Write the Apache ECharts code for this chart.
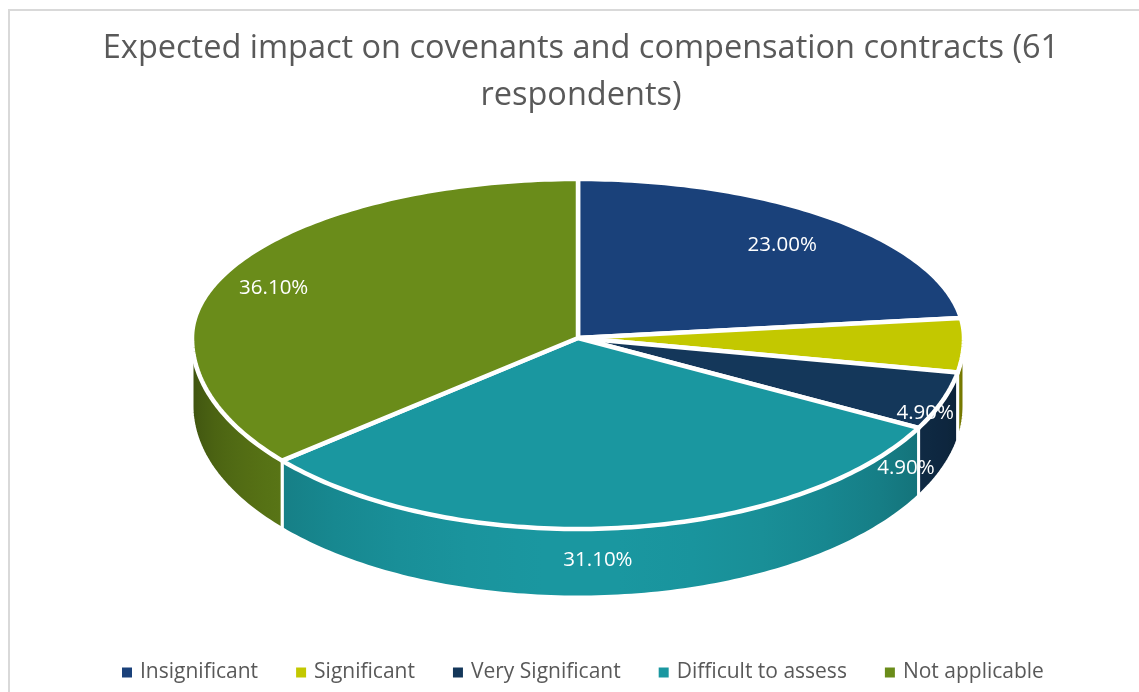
<!DOCTYPE html>
<html>
<head>
<meta charset="utf-8">
<script src="https://cdn.jsdelivr.net/npm/echarts@6/dist/echarts.min.js"></script>
<style>
html,body{margin:0;padding:0;background:#fff;}
#chart{width:1139px;height:692px;}
</style>
</head>
<body>
<div id="chart"></div>
<script>
// ---- data ----
const categories = ['Insignificant', 'Significant', 'Very Significant', 'Difficult to assess', 'Not applicable'];
const shares = [23.0, 4.9, 4.9, 31.1, 36.1];
const colors = ['#1a417a', '#c3c800', '#14375a', '#1a97a0', '#6a8c1a'];
const titleText = 'Expected impact on covenants and compensation contracts (61\nrespondents)';

// ---- label placement style: [radial factor, dx, dy] ----
const labelPlace = [[0.8, 0, 3], [0.9, 0, 70], [0.9, 0, 73], [1.0, -20, 32], [0.87, 0, 9]];

// ---- geometry style ----
const G = { cx: 578, cy: 338, rx: 386, ryBack: 159, ryFront: 191, depth: 68 };
const FONT = '"Open Sans", Lato, sans-serif';

const total = shares.reduce((a, b) => a + b, 0);
const startDeg = [], endDeg = [];
let acc = 0;
shares.forEach(v => { startDeg.push(acc / total * 360); acc += v; endDeg.push(acc / total * 360); });

function pt(deg, dy) {
  const t = deg * Math.PI / 180;
  const c = Math.cos(t);
  return [G.cx + G.rx * Math.sin(t), G.cy - (c > 0 ? G.ryBack : G.ryFront) * c + (dy || 0)];
}
function shade(hex, f) {
  const n = parseInt(hex.slice(1), 16);
  const r = Math.round(((n >> 16) & 255) * f), g = Math.round(((n >> 8) & 255) * f), b = Math.round((n & 255) * f);
  return 'rgb(' + r + ',' + g + ',' + b + ')';
}

function renderWall(params, api) {
  const i = params.dataIndex;
  const a1 = Math.max(startDeg[i], 90), a2 = Math.min(endDeg[i], 270);
  if (a2 <= a1) return { type: 'group', children: [] };
  const pts = [];
  const steps = Math.max(2, Math.ceil(a2 - a1));
  for (let k = 0; k <= steps; k++) pts.push(pt(a1 + (a2 - a1) * k / steps, 0));
  for (let k = steps; k >= 0; k--) pts.push(pt(a1 + (a2 - a1) * k / steps, G.depth));
  const xs = pts.map(p => p[0]);
  const minX = Math.min(...xs), maxX = Math.max(...xs);
  const stops = [];
  for (let k = 0; k <= 10; k++) {
    const a = a1 + (a2 - a1) * k / 10;
    const x = pt(a, 0)[0];
    const f = 0.55 + 0.45 * (-Math.cos(a * Math.PI / 180));
    stops.push({ offset: maxX - minX > 0.5 ? (x - minX) / (maxX - minX) : k / 10, color: shade(colors[i], f) });
  }
  stops.sort((p, q) => p.offset - q.offset);
  return {
    type: 'polygon',
    shape: { points: pts },
    style: { fill: new echarts.graphic.LinearGradient(0, 0, 1, 0, stops), stroke: '#ffffff', lineWidth: 3, lineJoin: 'round' }
  };
}

function renderTop(params, api) {
  const i = params.dataIndex;
  const a1 = startDeg[i], a2 = endDeg[i];
  const pts = [[G.cx, G.cy]];
  const steps = Math.max(2, Math.ceil(a2 - a1));
  for (let k = 0; k <= steps; k++) pts.push(pt(a1 + (a2 - a1) * k / steps, 0));
  return {
    type: 'polygon',
    shape: { points: pts },
    style: { fill: colors[i], stroke: '#ffffff', lineWidth: 4.5, lineJoin: 'round' }
  };
}

function renderLabel(params, api) {
  const i = params.dataIndex;
  const mid = (startDeg[i] + endDeg[i]) / 2;
  const t = mid * Math.PI / 180;
  const c = Math.cos(t);
  const lp = labelPlace[i];
  const x = G.cx + G.rx * Math.sin(t) * lp[0] + lp[1];
  const y = G.cy - (c > 0 ? G.ryBack : G.ryFront) * c * lp[0] + lp[2];
  return {
    type: 'text',
    x: x, y: y,
    style: { text: api.value(0).toFixed(2) + '%', fill: '#ffffff', fontSize: 20.5, fontFamily: FONT, align: 'center', verticalAlign: 'middle' }
  };
}

const dataItems = shares.map((v, i) => ({ name: categories[i], value: v }));

const chart = echarts.init(document.getElementById('chart'), null, { renderer: 'canvas' });
chart.setOption({
  backgroundColor: '#ffffff',
  animation: false,
  color: colors,
  graphic: [{ type: 'rect', shape: { x: 9, y: 10, width: 1200, height: 800 }, style: { fill: 'none', stroke: '#d9d9d9', lineWidth: 2 }, silent: true, z: -10 }],
  title: {
    text: titleText,
    left: 576,
    textAlign: 'center',
    top: 20,
    textStyle: { fontFamily: FONT, fontSize: 32.5, fontWeight: 'normal', color: '#595959', lineHeight: 47 }
  },
  legend: {
    bottom: 4,
    left: 117,
    icon: 'rect',
    itemWidth: 10,
    itemHeight: 10,
    itemGap: 38,
    data: categories,
    textStyle: { fontFamily: FONT, fontSize: 21, color: '#595959', padding: [0, 0, 0, 3] }
  },
  series: [
    { type: 'pie', name: 'legendProxy', radius: [0, 1], center: [G.cx, G.cy], data: dataItems.map((d, i) => ({ name: d.name, value: d.value, itemStyle: { color: colors[i] } })), label: { show: false }, labelLine: { show: false }, silent: true, z: 0 },
    { type: 'custom', name: 'walls', coordinateSystem: 'none', renderItem: renderWall, data: shares, z: 1, silent: true },
    { type: 'custom', name: 'tops', coordinateSystem: 'none', renderItem: renderTop, data: shares, z: 2, silent: true },
    { type: 'custom', name: 'labels', coordinateSystem: 'none', renderItem: renderLabel, data: shares, z: 3, silent: true }
  ]
});
</script>
</body>
</html>
